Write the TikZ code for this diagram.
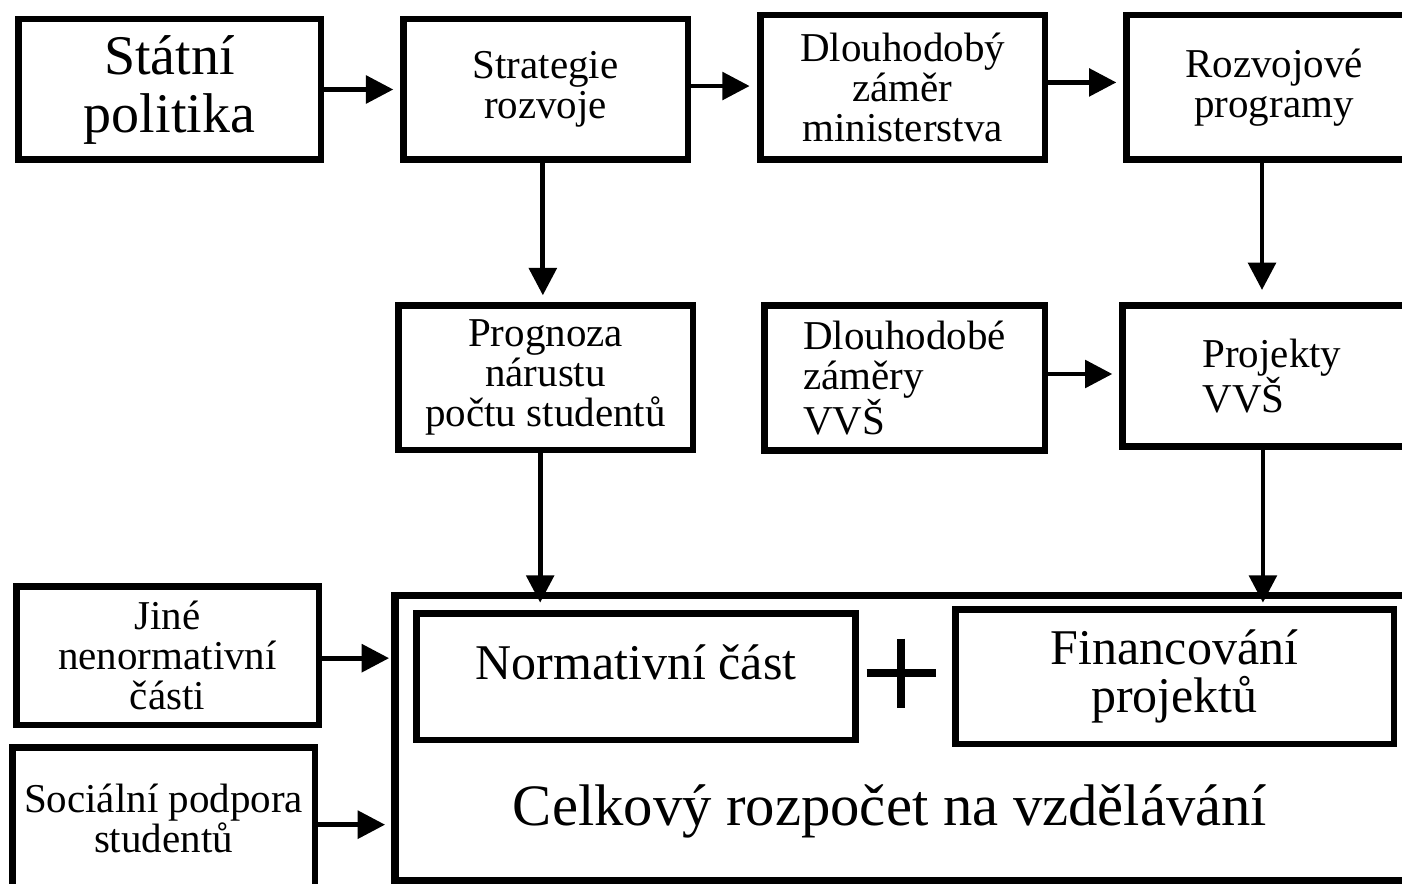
\documentclass[tikz,border=0pt]{standalone}
\usepackage{fontspec}
\setmainfont{Liberation Serif}
\usetikzlibrary{arrows.meta}

\begin{document}
\begin{tikzpicture}[x=0.75pt,y=0.75pt,yscale=-1,xscale=1,
  box/.style={draw, line width=4.9pt, inner sep=0pt, align=center, font=\fontsize{30.75}{30}\selectfont},
  bigbox/.style={draw, line width=5.6pt, inner sep=0pt},
  arr/.style={line width=3.6pt, -{Triangle[length=20.5pt,width=20.5pt]}},
  large/.style={font=\fontsize{37.5}{36}\selectfont}
]
\useasboundingbox (0,0) rectangle (1402,884);
\clip (0,0) rectangle (1402,884);

%Shape: Rectangle (whole budget)
\node [bigbox, minimum width=768.9pt, minimum height=213.4pt] (total) at (907.4,738) {};

%Shape: Rectangle (top row)
\node [box, minimum width=226.9pt, minimum height=105.4pt, font=\fontsize{42}{43.5}\selectfont] (stat) at (169.5,89.5) {Státní\\politika};
\node [box, minimum width=213.4pt, minimum height=105.4pt] (strat) at (545.5,89.5) {Strategie\\rozvoje};
\node [box, minimum width=213.4pt, minimum height=108.4pt] (zamer) at (902.5,87.5) {Dlouhodobý\\záměr\\ministerstva};
\node [box, minimum width=221.6pt, minimum height=108.4pt] (rozv) at (1274,87.5) {Rozvojové\\programy};

%Shape: Rectangle (middle row)
\node [box, minimum width=220.9pt, minimum height=108.4pt] (prog) at (545.5,377.5) {Prognoza\\nárustu\\počtu studentů};
\node [box, minimum width=210.4pt, minimum height=109.1pt, align=left] (zamery) at (904.5,378) {Dlouhodobé\\záměry\\VVŠ};
\node [box, minimum width=224.6pt, minimum height=106.1pt, align=left] (proj) at (1272,376) {Projekty\\VVŠ};

%Shape: Rectangle (bottom left)
\node [box, minimum width=226.9pt, minimum height=103.9pt] (jine) at (167.5,655.5) {Jiné\\nenormativní\\části};
\node [box, minimum width=226.9pt, minimum height=106.1pt] (soc) at (163.5,818) {Sociální podpora\\studentů};

%Shape: Rectangle (inside the budget)
\node [box, large, minimum width=329.6pt, minimum height=94.9pt, text height=26pt, text depth=21pt] (norm) at (636,676.5) {Normativní část};
\node [box, large, minimum width=328.9pt, minimum height=100.9pt] (fin) at (1174.5,676.5) {Financování\\projektů};

% Text Node
\node [font=\fontsize{44}{44}\selectfont] (totaltext) at (890,811) {Celkový rozpočet na vzdělávání};

%Plus sign
\coordinate (plus) at (901,673);
\draw [line width=5.6pt] (plus) +(-34.5,0) -- +(34.5,0) (plus) +(0,-34.5) -- +(0,34.5);

%Straight Lines
\draw [arr, shorten >=5pt] (stat.east) -- (strat.west);
\draw [arr, shorten >=5.5pt] ([yshift=-2.6pt]strat.east) -- ([yshift=-2.6pt]strat.east -| zamer.west);
\draw [arr, shorten >=5pt] ([yshift=-3.8pt]zamer.east) -- ([yshift=-3.8pt]zamer.east -| rozv.west);
\draw [arr, shorten >=5pt] ([xshift=-2pt]strat.south) -- ([xshift=-2pt]strat.south |- prog.north);
\draw [arr, shorten >=9pt] ([xshift=-9pt]rozv.south) -- ([xshift=-9pt]rozv.south |- proj.north);
\draw [arr, shorten >=5pt] ([yshift=-3pt]zamery.east) -- ([yshift=-3pt]zamery.east -| proj.west);
\draw [arr, shorten >=-8pt] ([xshift=-4pt]prog.south) -- ([xshift=-4pt]prog.south |- total.north);
\draw [arr, shorten >=-8pt] ([xshift=-6.8pt]proj.south) -- ([xshift=-6.8pt]proj.south |- total.north);
\draw [arr, shorten >=1.5pt] ([yshift=2pt]jine.east) -- ([yshift=2pt]jine.east -| total.west);
\draw [arr, shorten >=4.5pt] ([yshift=5pt]soc.east) -- ([yshift=5pt]soc.east -| total.west);

\end{tikzpicture}
\end{document}
